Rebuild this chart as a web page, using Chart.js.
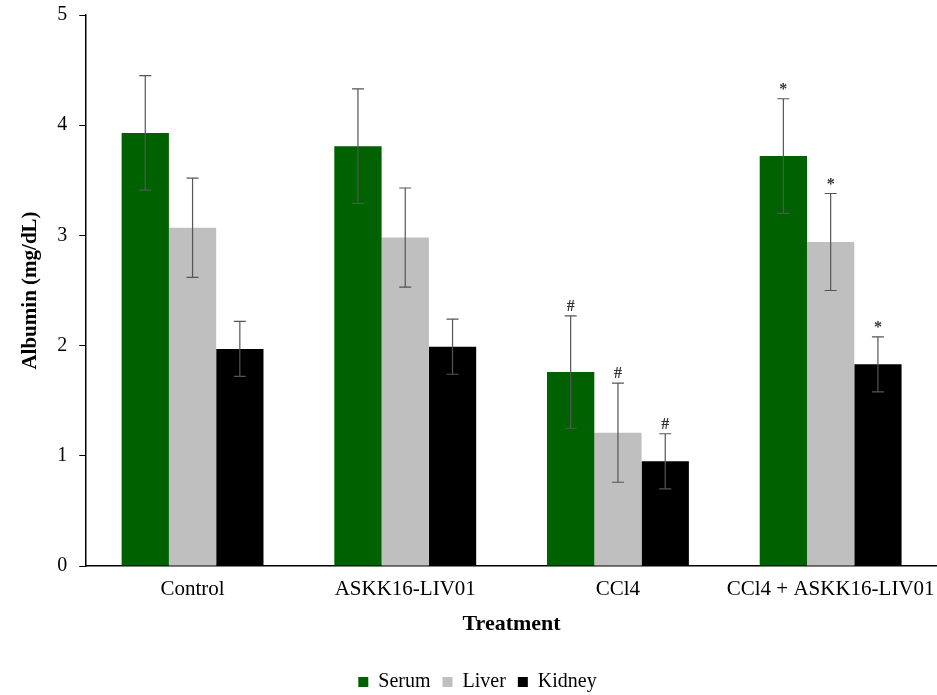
<!DOCTYPE html>
<html>
<head>
<meta charset="utf-8">
<script src="https://cdn.jsdelivr.net/npm/chart.js@4"></script>
<style>
  html, body { margin: 0; padding: 0; background: #fff; }
  #wrap { width: 937px; height: 695px; }
</style>
</head>
<body>
<div id="wrap"><canvas id="myChart"></canvas></div>
<script>
var treatments = ['Control', 'ASKK16-LIV01', 'CCl4', 'CCl4 + ASKK16-LIV01'];
var serum = [3.93, 3.81, 1.76, 3.72];
var liver = [3.07, 2.98, 1.21, 2.94];
var kidney = [1.97, 1.99, 0.95, 1.83];
var serumErr = [0.52, 0.52, 0.51, 0.52];
var liverErr = [0.45, 0.45, 0.45, 0.44];
var kidneyErr = [0.25, 0.25, 0.25, 0.25];
var serumMark = ['', '', '#', '*'];
var liverMark = ['', '', '#', '*'];
var kidneyMark = ['', '', '#', '*'];
var yTicks = [0, 1, 2, 3, 4, 5];

var serif = '"Liberation Serif", "Times New Roman", serif';

// draws the +/- bars and the significance marks above them
var errorBars = {
  id: 'errorBars',
  afterDatasetsDraw: function (chart) {
    var ctx = chart.ctx;
    var y = chart.scales.y;
    chart.data.datasets.forEach(function (ds, i) {
      var meta = chart.getDatasetMeta(i);
      meta.data.forEach(function (bar, j) {
        var v = ds.data[j], e = ds.err[j];
        var top = y.getPixelForValue(v + e);
        var bot = y.getPixelForValue(v - e);
        var x = bar.x;
        ctx.save();
        ctx.strokeStyle = '#555';
        ctx.lineWidth = 1.2;
        ctx.beginPath();
        ctx.moveTo(x, top); ctx.lineTo(x, bot);
        ctx.moveTo(x - 6, top); ctx.lineTo(x + 6, top);
        ctx.moveTo(x - 6, bot); ctx.lineTo(x + 6, bot);
        ctx.stroke();
        if (ds.marks[j]) {
          ctx.fillStyle = '#333';
          ctx.font = 'bold 16px ' + serif;
          ctx.textAlign = 'center';
          ctx.textBaseline = 'bottom';
          ctx.fillText(ds.marks[j], x, top - 1);
        }
        ctx.restore();
      });
    });
  }
};

var ctx = document.getElementById('myChart').getContext('2d');
new Chart(ctx, {
  type: 'bar',
  data: {
    labels: treatments,
    datasets: [
      { label: 'Serum', data: serum, err: serumErr, marks: serumMark, backgroundColor: '#006100' },
      { label: 'Liver', data: liver, err: liverErr, marks: liverMark, backgroundColor: '#bfbfbf' },
      { label: 'Kidney', data: kidney, err: kidneyErr, marks: kidneyMark, backgroundColor: '#000000' }
    ]
  },
  options: {
    responsive: true,
    maintainAspectRatio: false,
    animation: false,
    layout: { autoPadding: false, padding: { top: 15, right: 0, left: 18, bottom: -7 } },
    datasets: { bar: { categoryPercentage: 0.667, barPercentage: 1.0 } },
    plugins: {
      tooltip: { enabled: false },
      legend: {
        position: 'bottom',
        labels: {
          boxWidth: 10, boxHeight: 10, padding: 12,
          color: '#000',
          font: { family: serif, size: 20 }
        }
      }
    },
    scales: {
      x: {
        afterFit: function (scale) { scale.paddingLeft = 0; scale.paddingRight = 0; },
        grid: { display: false, drawTicks: false },
        border: { color: '#000', width: 1.5 },
        ticks: {
          color: '#000', padding: 13, maxRotation: 0, minRotation: 0, autoSkip: false,
          font: { family: serif, size: 21, lineHeight: 1.0 }
        },
        title: {
          display: true, text: 'Treatment', color: '#000',
          font: { family: serif, size: 22, weight: 'bold', lineHeight: 1.0 },
          padding: { top: 0, bottom: 25 }
        }
      },
      y: {
        min: 0, max: 5,
        afterFit: function (scale) { scale.paddingTop = 0; scale.paddingBottom = 0; },
        afterBuildTicks: function (axis) {
          axis.ticks = yTicks.map(function (v) { return { value: v }; });
        },
        grid: { drawOnChartArea: false, drawTicks: true, tickLength: 7, color: '#000' },
        border: { color: '#000', width: 1.5 },
        ticks: { color: '#000', padding: 12, font: { family: serif, size: 20 } },
        title: {
          display: true, text: 'Albumin (mg/dL)', color: '#000',
          font: { family: serif, size: 21, weight: 'bold' },
          padding: { top: 0, bottom: 2 }
        }
      }
    }
  },
  plugins: [errorBars]
});
</script>
</body>
</html>
